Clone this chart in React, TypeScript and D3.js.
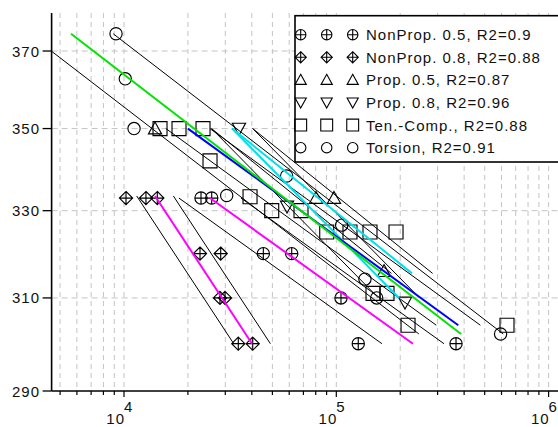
import * as d3 from "d3";
import { useEffect, useRef } from "react";

const width = 558;
const height = 427;

const yTicks = [290, 310, 330, 350, 370];
const yGrid = [310, 330, 350, 370];
const xMajor = [1e4, 1e5, 1e6];
const xExp = ["4", "5", "6"];

const labels = [
	"NonProp. 0.5, R2=0.9",
	"NonProp. 0.8, R2=0.88",
	"Prop. 0.5, R2=0.87",
	"Prop. 0.8, R2=0.96",
	"Ten.-Comp., R2=0.88",
	"Torsion, R2=0.91"
];
const markers = ["circlePlus", "diamondPlus", "triangleUp", "triangleDown", "square", "circle"];
const lineColors = ["#ff00ff", "#ff00ff", "#00e0ea", "#00e0ea", "#0000ff", "#00e400"];

// cycles to failure and stress amplitude, one pair of arrays per series
const nonProp05N = [23050, 25890, 45320, 61650, 105200, 126900, 366300];
const nonProp05S = [333, 333, 320, 320, 310, 300, 300];
const nonProp08N = [10220, 12690, 14350, 22800, 28540, 28310, 29910, 34540, 40390];
const nonProp08S = [333, 333, 333, 320, 320, 310, 310, 300, 300];
const prop05N = [14000, 80260, 97540, 167800];
const prop05S = [350, 333, 333, 316];
const prop08N = [34800, 58600, 210700];
const prop08S = [350, 331, 309];
const tenCompN = [14780, 18160, 23560, 25420, 39230, 49630, 68190, 90120, 116000, 144100, 191100, 148900, 173300, 217700, 636800];
const tenCompS = [350, 350, 350, 342, 333.3, 330, 330, 325, 325, 325, 325, 311, 311, 304, 304];
const torsionN = [9170, 10140, 11150, 30460, 58350, 106000, 136400, 155000, 594000];
const torsionS = [374.6, 362.7, 350, 333.6, 338.3, 326.6, 314.2, 310, 302.1];

const pointsN = [nonProp05N, nonProp08N, prop05N, prop08N, tenCompN, torsionN];
const pointsS = [nonProp05S, nonProp08S, prop05S, prop08S, tenCompS, torsionS];

// fitted lines: stress at both ends, cycles at both ends, scatter band factor
const fitS = [[333, 300], [333.5, 300], [350, 315.5], [350, 310], [350, 304], [374.6, 302.1]];
const fitN = [[25400, 229600], [14000, 40100], [32300, 227300], [32300, 197400], [20000, 375500], [5630, 386800]];
const bandFactor = [1.4, 1.22, 1.25, 1.25, 1.27, 1.58];

const markerPath = (type, cx, cy, r) => {
	const cross = `M${cx - r},${cy}H${cx + r}M${cx},${cy - r}V${cy + r}`;
	const rc = r * 0.93;
	const circle = `M${cx - rc},${cy}a${rc},${rc} 0 1,0 ${2 * rc},0a${rc},${rc} 0 1,0 ${-2 * rc},0Z`;
	const rs = r * 1.06;
	if (type === "circle") return circle;
	if (type === "circlePlus") return circle + `M${cx - rc},${cy}H${cx + rc}M${cx},${cy - rc}V${cy + rc}`;
	if (type === "diamondPlus") return `M${cx},${cy - r}L${cx + r},${cy}L${cx},${cy + r}L${cx - r},${cy}Z` + cross;
	if (type === "square") return `M${cx - rs},${cy - rs}h${2 * rs}v${2 * rs}h${-2 * rs}Z`;
	if (type === "triangleUp") return `M${cx},${cy - r}L${cx + r},${cy + r * 0.8}L${cx - r},${cy + r * 0.8}Z`;
	return `M${cx},${cy + r}L${cx + r},${cy - r * 0.8}L${cx - r},${cy - r * 0.8}Z`;
};

const App = () => {
	const chartRef = useRef(null);

	useEffect(() => {
		const svg = d3.select(chartRef.current);
		svg.selectAll("*").remove();

		const x = d3.scaleLog().domain([4560, 1.1e6]).range([51.6, 557.4]);
		const y = d3.scaleLog().domain([290, 380]).range([391, 13.8]);
		const [left, right] = x.range();
		const [bottom] = y.range();

		const font = "'Liberation Sans', Arial, sans-serif";
		const textStyle = sel => sel
			.attr("font-family", font).attr("font-size", 15).attr("fill", "#111")
			.style("letter-spacing", "1px");

		svg.append("rect").attr("width", width).attr("height", height).attr("fill", "#fff");

		svg.append("clipPath").attr("id", "plot")
			.append("rect").attr("x", left).attr("y", 13).attr("width", right - left + 2).attr("height", bottom - 13);

		const minor = [];
		for (let e = 3; e <= 6; e++) {
			for (let m = 1; m <= 9; m++) {
				const v = m * Math.pow(10, e);
				if (v >= 4560 && v <= 1.1e6) minor.push(v);
			}
		}

		// grid
		svg.append("g").selectAll("line").data(minor).enter().append("line")
			.attr("x1", d => x(d)).attr("x2", d => x(d))
			.attr("y1", 13).attr("y2", bottom)
			.attr("stroke", "#c4c4c4").attr("stroke-dasharray", "5,4");
		svg.append("g").selectAll("line").data(yGrid).enter().append("line")
			.attr("x1", left).attr("x2", right)
			.attr("y1", d => y(d)).attr("y2", d => y(d))
			.attr("stroke", "#c4c4c4").attr("stroke-dasharray", "6,4");

		const plot = svg.append("g").attr("clip-path", "url(#plot)");

		// markers
		pointsN.forEach((ns, i) => {
			plot.append("g").selectAll("path").data(ns).enter().append("path")
				.attr("d", (d, j) => markerPath(markers[i], x(d), y(pointsS[i][j]), 6.6))
				.attr("fill", "none").attr("stroke", "#000").attr("stroke-width", 1.15);
		});

		// fits with scatter bands
		fitN.forEach((ns, i) => {
			[1 / bandFactor[i], bandFactor[i]].forEach(f => {
				plot.append("line")
					.attr("x1", x(ns[0] * f)).attr("y1", y(fitS[i][0]))
					.attr("x2", x(ns[1] * f)).attr("y2", y(fitS[i][1]))
					.attr("stroke", "#000").attr("stroke-width", 1);
			});
		});
		fitN.forEach((ns, i) => {
			plot.append("line")
				.attr("x1", x(ns[0])).attr("y1", y(fitS[i][0]))
				.attr("x2", x(ns[1])).attr("y2", y(fitS[i][1]))
				.attr("stroke", lineColors[i]).attr("stroke-width", 2);
		});

		// axes
		svg.append("line").attr("x1", left).attr("x2", left).attr("y1", 13).attr("y2", bottom)
			.attr("stroke", "#000").attr("stroke-width", 1.6);
		svg.append("line").attr("x1", left).attr("x2", width).attr("y1", bottom).attr("y2", bottom)
			.attr("stroke", "#000").attr("stroke-width", 1.6);

		svg.append("g").selectAll("line").data(yTicks).enter().append("line")
			.attr("x1", left - 9).attr("x2", left)
			.attr("y1", d => y(d)).attr("y2", d => y(d))
			.attr("stroke", "#000").attr("stroke-width", 1.3);
		svg.append("g").selectAll("text").data(yTicks).enter().append("text")
			.attr("x", 40).attr("y", d => y(d) + 5.5)
			.attr("text-anchor", "end")
			.call(textStyle)
			.text(d => d);

		svg.append("g").selectAll("line").data(minor).enter().append("line")
			.attr("x1", d => x(d)).attr("x2", d => x(d))
			.attr("y1", bottom).attr("y2", d => xMajor.includes(d) ? bottom + 6 : bottom + 4)
			.attr("stroke", "#000").attr("stroke-width", 1.2);

		const xl = svg.append("g").selectAll("g").data(xMajor).enter().append("g");
		xl.append("text")
			.attr("x", d => x(d) + 1).attr("y", 424)
			.attr("text-anchor", "end")
			.call(textStyle)
			.text("10");
		xl.append("text")
			.attr("x", d => x(d)).attr("y", 412)
			.call(textStyle)
			.text((d, i) => xExp[i]);

		// legend
		const lg = svg.append("g");
		lg.append("rect").attr("x", 295).attr("y", 15.7).attr("width", 270).attr("height", 146.3)
			.attr("fill", "#fff").attr("stroke", "#000").attr("stroke-width", 1.6);
		labels.forEach((label, i) => {
			const cy = 34.7 + i * 22.6;
			[300.7, 326.7, 352.7].forEach(cx => {
				lg.append("path").attr("d", markerPath(markers[i], cx, cy, 5.6))
					.attr("fill", "none").attr("stroke", "#000").attr("stroke-width", 1.1);
			});
			lg.append("text").attr("x", 366).attr("y", cy + 5.5)
				.call(textStyle)
				.text(label);
		});
	}, []);

	return (
		<svg ref={chartRef} width={width} height={height} style={{ position: "absolute", left: 0, top: 0 }}></svg>
	);
};

export default App;
